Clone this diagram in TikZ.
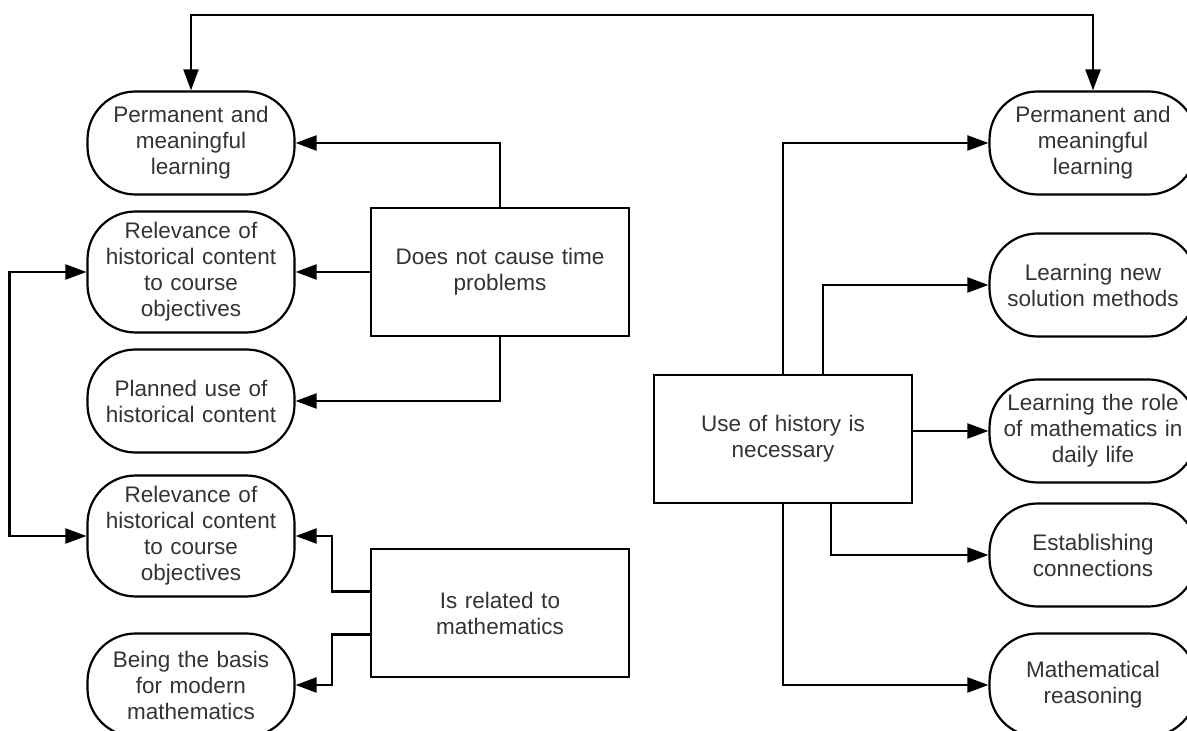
\documentclass[tikz,border=0pt]{standalone}
\usepackage{fontspec}
\setmainfont{Liberation Sans}
\usepackage{tikz}
\usetikzlibrary{arrows.meta}

\begin{document}
\begin{tikzpicture}[x=0.5pt,y=-0.5pt,line width=1.1pt,>={Triangle[length=10.5pt,width=7.5pt]},
    every node/.style={text=black!80,font=\fontsize{11.25}{13}\selectfont},
    pill/.style={draw,rounded corners=24pt,text width=92pt,align=center,inner xsep=5.75pt,inner ysep=5.5pt,minimum height=51.5pt},
    block/.style={draw,rectangle,text width=117pt,align=center,inner xsep=6pt,minimum height=64pt}]
    \useasboundingbox (0,0) rectangle (1187,731);
    \node (L1) at (191,143) [pill] {Permanent and\\meaningful\\learning};
    \node (L2) at (191,272) [pill] {Relevance of\\historical content\\to course\\objectives};
    \node (L3) at (191,401) [pill] {Planned use of\\historical content};
    \node (L4) at (191,536) [pill] {Relevance of\\historical content\\to course\\objectives};
    \node (L5) at (191,685) [pill] {Being the basis\\for modern\\mathematics};
    \node (B1) at (500,272) [block] {Does not cause time\\problems};
    \node (B2) at (500,613) [block] {Is related to\\mathematics};
    \node (B3) at (783,439) [block] {Use of history is\\necessary};
    \node (R1) at (1093,143) [pill] {Permanent and\\meaningful\\learning};
    \node (R2) at (1093,285) [pill] {Learning new\\solution methods};
    \node (R3) at (1093,431) [pill] {Learning the role\\of mathematics in\\daily life};
    \node (R4) at (1093,555) [pill] {Establishing\\connections};
    \node (R5) at (1093,685) [pill] {Mathematical\\reasoning};
    \coordinate (top) at (640,15);
    \draw[<->] (L1.north) |- (top) -| (R1.north);
    \draw[<->] (L2.west) -- ++(-77,0) |- (L4.west);
    \draw[->] (B1.north) |- (L1.east);
    \draw[->] (B1.west) -- (L2.east);
    \draw[->] (B1.south) |- (L3.east);
    \draw[->] ([yshift=10.75pt]B2.west) -- ++(-38,0) |- (L4.east);
    \draw[->] ([yshift=-10.75pt]B2.west) -- ++(-38,0) |- (L5.east);
    \draw[->] (B3.north) |- (R1.west);
    \draw[->] ([xshift=20pt]B3.north) |- (R2.west);
    \draw[->] (B3.east |- R3) -- (R3.west);
    \draw[->] ([xshift=24pt]B3.south) |- (R4.west);
    \draw[->] (B3.south) |- (R5.west);
\end{tikzpicture}
\end{document}
